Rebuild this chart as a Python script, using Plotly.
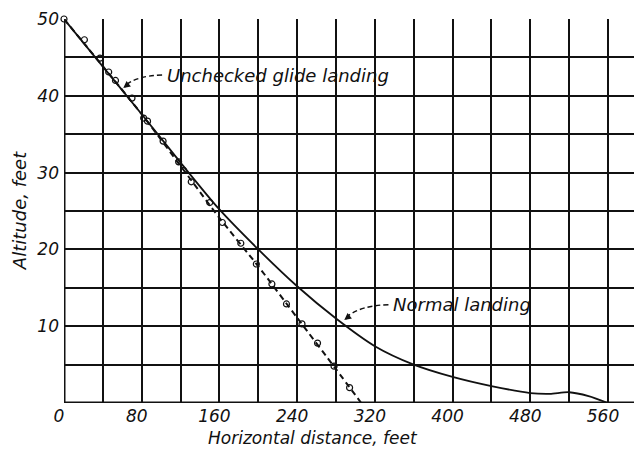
import plotly.graph_objects as go

# Normal landing (solid curve)
normal_x = [0, 40, 80, 120, 160, 200, 240, 280, 320, 360, 400, 440, 480, 500, 520, 540, 560]
normal_y = [50, 43.8, 37.6, 31.3, 25.2, 20.0, 15.2, 11.0, 7.4, 5.0, 3.4, 2.2, 1.3, 1.2, 1.4, 0.9, 0]

# Unchecked glide landing (dashed fairing + measured points)
glide_x = [0, 80, 160, 200, 240, 280, 306]
glide_y = [50, 37.6, 24.1, 17.8, 11.1, 4.4, 0]
glide_pts_x = [0, 21, 37, 46, 53, 70, 82, 86, 102, 118, 123, 131, 150, 163,
               182, 198, 214, 229, 245, 261, 278, 294]
glide_pts_y = [50, 47.3, 44.9, 43.1, 42.0, 39.7, 37.1, 36.7, 34.1, 31.4, 30.3, 28.8, 26.1, 23.5,
               20.8, 18.1, 15.5, 12.9, 10.3, 7.8, 4.8, 2.0]

x_ticks = [0, 80, 160, 240, 320, 400, 480, 560]
y_ticks = [10, 20, 30, 40, 50]

FONT = "DejaVu Sans"
INK = "#111111"
ital = lambda s: dict(family=FONT, size=s, color=INK, style="italic")

fig = go.Figure()

fig.add_trace(go.Scatter(
    x=normal_x, y=normal_y, mode="lines",
    line=dict(color=INK, width=1.8, shape="spline", smoothing=0.8),
    showlegend=False, hoverinfo="skip"
))
fig.add_trace(go.Scatter(
    x=glide_x, y=glide_y, mode="lines",
    line=dict(color=INK, width=2, dash="6px,4px", shape="spline", smoothing=0.6),
    showlegend=False, hoverinfo="skip"
))
fig.add_trace(go.Scatter(
    x=glide_pts_x, y=glide_pts_y, mode="markers", cliponaxis=False,
    marker=dict(symbol="circle-open", size=6, color=INK, line=dict(width=1.2)),
    showlegend=False, hoverinfo="skip"
))

# dashed curved leaders
fig.add_shape(type="path", path="M 101,42.7 Q 74,42.6 63,41.3",
              line=dict(color=INK, width=1.4, dash="5px,3px"))
fig.add_shape(type="path", path="M 334,12.8 Q 305,12.7 291,11.2",
              line=dict(color=INK, width=1.4, dash="5px,3px"))

# arrowheads
fig.add_annotation(x=61, y=41.0, ax=5, ay=-4, text="", showarrow=True,
                   arrowhead=2, arrowsize=1, arrowwidth=1.4, arrowcolor=INK)
fig.add_annotation(x=288.5, y=10.8, ax=5, ay=-4, text="", showarrow=True,
                   arrowhead=2, arrowsize=1, arrowwidth=1.4, arrowcolor=INK)

fig.add_annotation(x=104, y=42.7, text="Unchecked glide landing", showarrow=False,
                   xanchor="left", yanchor="middle", font=ital(18))
fig.add_annotation(x=337, y=12.8, text="Normal landing", showarrow=False,
                   xanchor="left", yanchor="middle", font=ital(18))

# axis titles
fig.add_annotation(x=0.43, y=-0.092, xref="paper", yref="paper",
                   text="Horizontal distance, feet", showarrow=False,
                   xanchor="center", yanchor="middle", font=ital(17))
fig.add_annotation(x=-0.056, y=0.5, xref="paper", yref="paper",
                   text="Altitude, feet", showarrow=False, textangle=-90,
                   xanchor="right", yanchor="middle", font=ital(18))

grid = dict(showgrid=True, gridcolor=INK, gridwidth=2)

# page body has an 8px margin, so the figure is sized to fill the rest
fig.update_layout(
    width=634, height=441,
    margin=dict(l=56, r=0, t=11, b=46),
    plot_bgcolor="white", paper_bgcolor="white",
    font=ital(17),
    xaxis=dict(range=[0, 595], tickvals=x_ticks, ticks="", ticklabelshift=-5,
               ticklabelstandoff=1, zeroline=False, tickfont=ital(17),
               showline=False, minor=dict(dtick=40, tick0=0, **grid), **grid),
    yaxis=dict(range=[0, 50], tickvals=y_ticks, ticks="", ticklabelstandoff=4,
               zeroline=False, showline=False, tickfont=ital(17),
               minor=dict(dtick=5, tick0=0, **grid), **grid),
)

# heavier axis lines along x=0 and y=0
fig.add_shape(type="line", xref="x", yref="y", x0=0, x1=595, y0=0, y1=0,
              line=dict(color=INK, width=3))
fig.add_shape(type="line", xref="x", yref="y", x0=0, x1=0, y0=0, y1=50,
              line=dict(color=INK, width=3))

fig.write_html("out.html")
